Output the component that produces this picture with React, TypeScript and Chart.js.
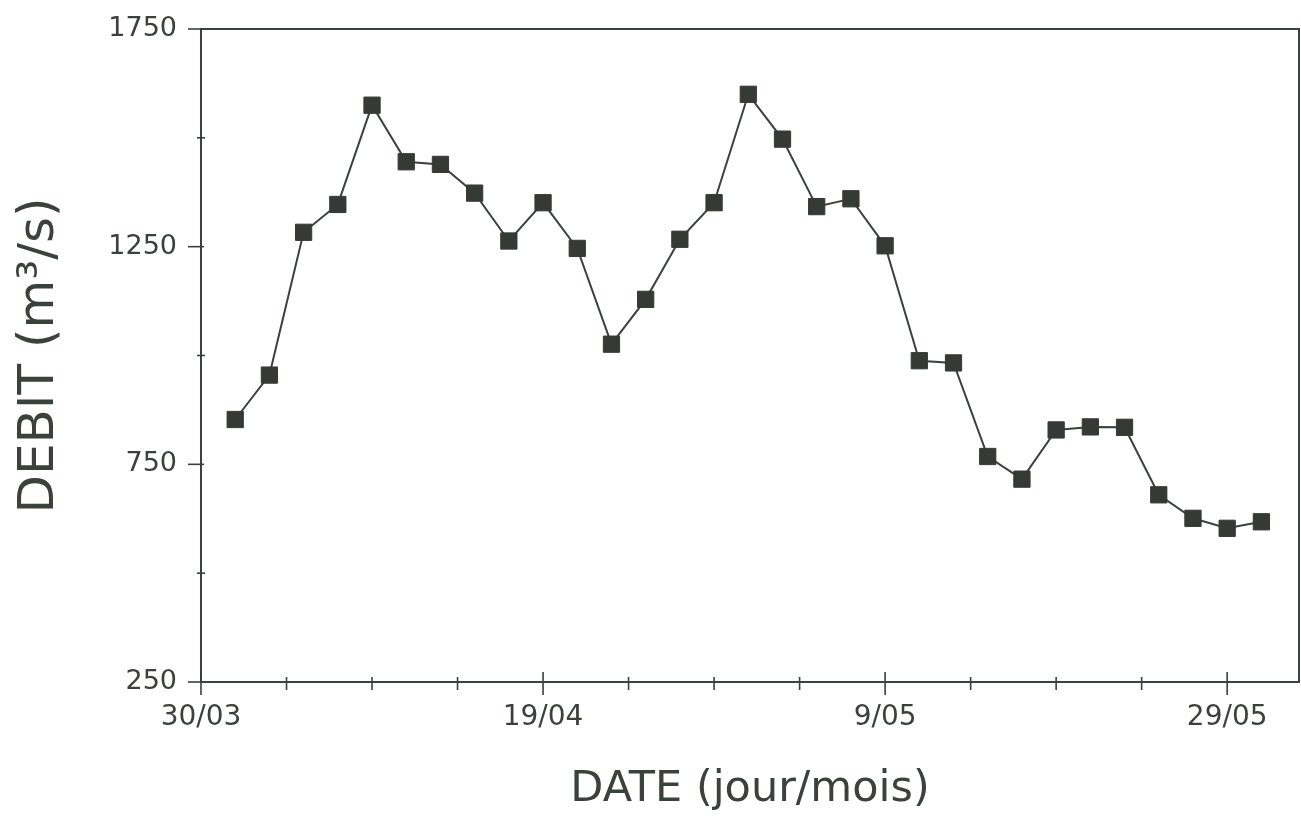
import React, { useEffect, useRef } from "react";
import { Chart, registerables } from "chart.js";

Chart.register(...registerables);

// Days since 30/03
const days = [2, 4, 6, 8, 10, 12, 14, 16, 18, 20, 22, 24, 26, 28, 30, 32, 34, 36, 38, 40, 42, 44, 46, 48, 50, 52, 54, 56, 58, 60, 62];
// Débit (m3/s)
const debit = [853, 955, 1283, 1347, 1575, 1445, 1439, 1373, 1263, 1351, 1246, 1026, 1129, 1267, 1351, 1600, 1497, 1342, 1360, 1252, 988, 983, 768, 716, 829, 836, 835, 680, 626, 603, 618];

const xMajorTicks = [0, 20, 40, 60];
const xMajorLabels = ["30/03", "19/04", "9/05", "29/05"];
const xMinorTicks = [5, 10, 15, 25, 30, 35, 45, 50, 55];
const yMajorTicks = [250, 750, 1250, 1750];
const yMinorTicks = [500, 1000, 1500];

const X_MIN = 0;
const X_MAX = 64.2;
const Y_MIN = 250;
const Y_MAX = 1750;

const INK = "#3b413d";
const FONT = "'DejaVu Sans', sans-serif";

const frameAndTicks = {
  id: "frameAndTicks",
  beforeDatasetsDraw(chart: any) {
    const { ctx, chartArea, scales } = chart;
    const { left, top, right, bottom } = chartArea;
    const x = scales.x;
    const y = scales.y;
    ctx.save();
    ctx.strokeStyle = INK;
    ctx.lineWidth = 2;
    ctx.strokeRect(left, top, right - left, bottom - top);
    ctx.lineWidth = 1.6;
    const line = (x1: number, y1: number, x2: number, y2: number) => {
      ctx.beginPath();
      ctx.moveTo(x1, y1);
      ctx.lineTo(x2, y2);
      ctx.stroke();
    };
    xMajorTicks.forEach((v) => {
      const px = x.getPixelForValue(v);
      line(px, bottom - 10, px, bottom + 13);
    });
    xMinorTicks.forEach((v) => {
      const px = x.getPixelForValue(v);
      line(px, bottom - 5, px, bottom + 8);
    });
    yMajorTicks.forEach((v) => {
      const py = y.getPixelForValue(v);
      line(left - 13, py, left + 3, py);
    });
    yMinorTicks.forEach((v) => {
      const py = y.getPixelForValue(v);
      line(left - 4, py, left + 4, py);
    });
    ctx.restore();
  },
};

export default function App() {
  const canvasRef = useRef<HTMLCanvasElement | null>(null);

  useEffect(() => {
    if (!canvasRef.current) return;
    const chart = new Chart(canvasRef.current, {
      type: "line",
      data: {
        datasets: [
          {
            data: days.map((d, i) => ({ x: d, y: debit[i] })),
            borderColor: INK,
            borderWidth: 2,
            backgroundColor: "#363a37",
            pointStyle: "rect",
            pointRadius: 11.5,
            pointBorderWidth: 1,
            pointBorderColor: "#363a37",
            pointBackgroundColor: "#363a37",
            tension: 0,
          },
        ],
      },
      options: {
        animation: false,
        responsive: false,
        devicePixelRatio: 1,
        layout: { autoPadding: false, padding: { top: 29, right: 2, left: 0, bottom: 0 } },
        plugins: {
          legend: { display: false },
          tooltip: { enabled: false },
        },
        scales: {
          x: {
            type: "linear",
            min: X_MIN,
            max: X_MAX,
            grid: { display: false, drawTicks: false },
            border: { display: false },
            afterBuildTicks: (scale: any) => {
              scale.ticks = xMajorTicks.map((v) => ({ value: v }));
            },
            afterFit: (scale: any) => {
              scale.height = 135;
              scale.paddingLeft = 0;
              scale.paddingRight = 0;
              scale.paddingTop = 0;
              scale.paddingBottom = 0;
            },
            ticks: {
              autoSkip: false,
              maxRotation: 0,
              minRotation: 0,
              padding: 19,
              color: INK,
              font: { family: FONT, size: 28, lineHeight: 1.2 },
              callback: (value: any) => {
                const i = xMajorTicks.indexOf(Number(value));
                return i >= 0 ? xMajorLabels[i] : "";
              },
            },
            title: {
              display: true,
              text: "DATE (jour/mois)",
              color: INK,
              font: { family: FONT, size: 43, lineHeight: 1 },
              padding: { top: 0, bottom: 6 },
            },
          },
          y: {
            type: "linear",
            min: Y_MIN,
            max: Y_MAX,
            grid: { display: false, drawTicks: false },
            border: { display: false },
            afterBuildTicks: (scale: any) => {
              scale.ticks = yMajorTicks.map((v) => ({ value: v }));
            },
            afterFit: (scale: any) => {
              scale.width = 201;
              scale.paddingLeft = 0;
              scale.paddingRight = 0;
              scale.paddingTop = 0;
              scale.paddingBottom = 0;
            },
            ticks: {
              autoSkip: false,
              padding: 24,
              color: INK,
              font: { family: FONT, size: 27, lineHeight: 1.2 },
              callback: (value: any) => String(value),
            },
            title: {
              display: true,
              text: "DEBIT (m³/s)",
              color: INK,
              font: { family: FONT, size: 50, lineHeight: 1 },
              padding: { top: 15, bottom: 0 },
            },
          },
        },
      },
      plugins: [frameAndTicks],
    });
    return () => chart.destroy();
  }, []);

  return (
    <div
      style={{
        position: "fixed",
        left: 0,
        top: 0,
        width: 1301,
        height: 817,
        background: "#ffffff",
      }}
    >
      <canvas ref={canvasRef} width={1301} height={817} />
    </div>
  );
}
